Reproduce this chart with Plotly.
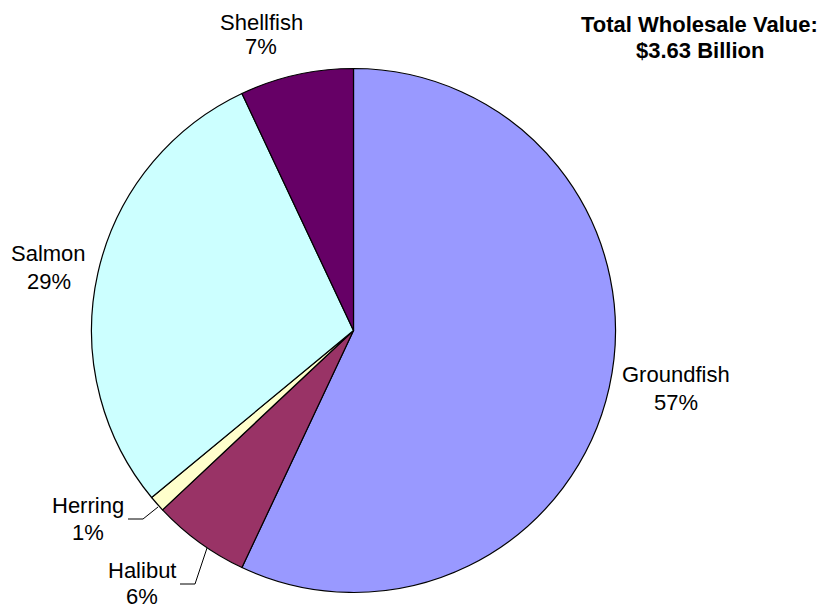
"""
Wholesale value pie chart by species group.
"""

import plotly.graph_objects as go

W, H = 827, 606
PAD = 8                      # page body margin around the figure
FW, FH = W - PAD, H - PAD    # figure size

# slices, clockwise from 12 o'clock
SPECIES = ["Groundfish", "Halibut", "Herring", "Salmon", "Shellfish"]
SHARE = [57, 6, 1, 29, 7]
COLORS = ["#9999FF", "#993366", "#FFFFCC", "#CCFFFF", "#660066"]

# label positions in page pixels: x centre, name line y, percent line y
LABEL_POS = {
    "Groundfish": (675.5, 374.5, 402.5),
    "Halibut": (142, 570, 596),
    "Herring": (88, 505, 532),
    "Salmon": (48.5, 254, 281),
    "Shellfish": (261, 23, 47),
}

# leader lines in page pixels
LEADERS = [
    [(128, 519), (143, 519), (158, 507)],
    [(180, 584), (195, 584), (207, 548)],
]

FONT = "Arial, Liberation Sans, sans-serif"


def px(x, y):
    """Page pixels -> paper coordinates."""
    return (x - PAD) / FW, 1 - (y - PAD) / FH


def label(x, y, text, size=22):
    xp, yp = px(x, y)
    return dict(x=xp, y=yp, xref="paper", yref="paper", text=text,
                showarrow=False, xanchor="center", yanchor="middle",
                font=dict(family=FONT, size=size, color="#000000"))


x0, y0 = px(91.5, 592.5)
x1, y1 = px(615.5, 68.5)

fig = go.Figure()
fig.add_trace(go.Pie(
    labels=SPECIES,
    values=SHARE,
    sort=False,
    direction="clockwise",
    rotation=0,
    marker=dict(colors=COLORS, line=dict(color="#000000", width=1.2)),
    textinfo="none",
    hoverinfo="label+percent",
    showlegend=False,
    domain=dict(x=[x0, x1], y=[y0, y1]),
))

annotations = []
for name, share in zip(SPECIES, SHARE):
    cx, ya, yb = LABEL_POS[name]
    annotations.append(label(cx, ya, name))
    annotations.append(label(cx, yb, f"{share}%"))

annotations.append(label(699, 25, "<b>Total Wholesale Value:</b>", size=22))
annotations.append(label(700, 50.5, "<b>$3.63 Billion</b>", size=22))

shapes = []
for pts in LEADERS:
    path = "M " + " L ".join(f"{px(a, b)[0]},{px(a, b)[1]}" for a, b in pts)
    shapes.append(dict(type="path", path=path, xref="paper", yref="paper",
                       line=dict(color="#000000", width=1)))

fig.update_layout(
    width=FW,
    height=FH,
    margin=dict(l=0, r=0, t=0, b=0),
    paper_bgcolor="#ffffff",
    plot_bgcolor="#ffffff",
    annotations=annotations,
    shapes=shapes,
)

fig.write_html("out.html")
